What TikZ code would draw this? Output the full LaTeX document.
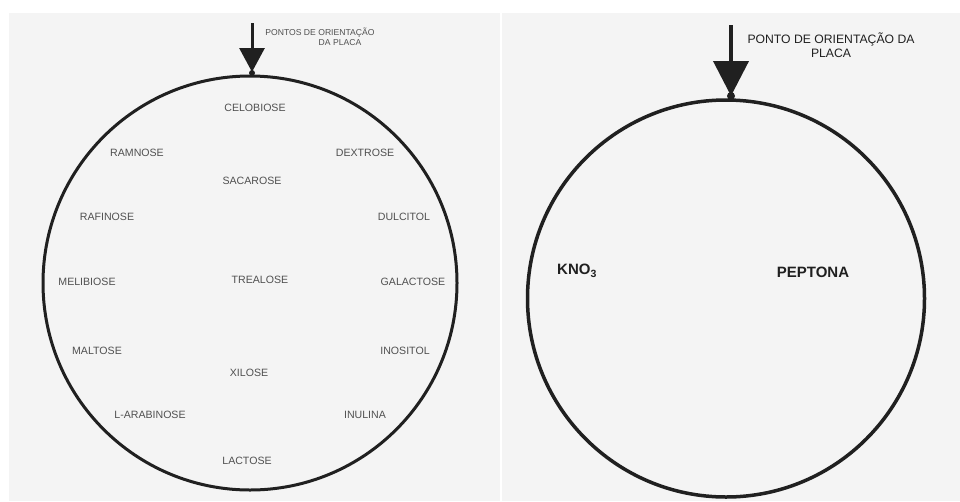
\documentclass[tikz,border=0pt]{standalone}
\usepackage{fontspec}
\setmainfont{Liberation Sans}
\usetikzlibrary{arrows.meta}
\definecolor{paper}{HTML}{F4F4F4}
\definecolor{ink}{HTML}{202020}
\definecolor{lbl}{HTML}{505050}
\tikzset{
  plate/.style={circle, draw=ink, inner sep=0pt, outer sep=0pt},
  sugar/.style={text=lbl, font=\fontsize{10.6}{12}\selectfont, inner sep=0pt},
  medium/.style={text=ink, font=\fontsize{15}{17}\selectfont\bfseries, inner sep=0pt},
  hdrsmall/.style={text=lbl, font=\fontsize{8.6}{10}\selectfont, inner sep=0pt},
  hdrbig/.style={text=ink, font=\fontsize{12.2}{14}\selectfont, inner sep=0pt, align=center},
  pointerL/.style={draw=ink, line width=3pt, -{Triangle[width=25pt,length=24pt]}},
  pointerR/.style={draw=ink, line width=4pt, -{Triangle[width=35pt,length=35pt]}},
  dotmark/.style={circle, fill=ink, inner sep=0pt},
}
\begin{document}
\begin{tikzpicture}[x=1pt,y=-1pt]
\useasboundingbox (0,0) rectangle (960,501);
\fill[white] (0,0) rectangle (960,501);
\fill[paper] (9,13) rectangle (500,501);
\fill[paper] (502,13) rectangle (960,501);

% ---------- left plate ----------
\node[plate, line width=3pt, minimum size=414pt] (L) at (250,283) {};
\coordinate (Ltop) at (252,23);
\draw[pointerL, shorten >=4pt] (Ltop) -- (Ltop |- L.north);
\node[dotmark, minimum size=6pt] (Ldot) at ([yshift=3pt]Ltop |- L.north) {};
\node[hdrsmall] (hdrA) at (320,33) {PONTOS DE ORIENTAÇÃO};
\node[hdrsmall] (hdrB) at (340,43) {DA PLACA};

\node[sugar] (celob) at (255,108) {CELOBIOSE};
\node[sugar] (ramn)  at (137,153) {RAMNOSE};
\node[sugar] (dext)  at (365,153) {DEXTROSE};
\node[sugar] (sacar) at (252,181) {SACAROSE};
\node[sugar] (rafin) at (107,217) {RAFINOSE};
\node[sugar] (dulc)  at (404,217) {DULCITOL};
\node[sugar] (melib) at (87,282)  {MELIBIOSE};
\node[sugar] (treal) at (260,280) {TREALOSE};
\node[sugar] (galac) at (413,282) {GALACTOSE};
\node[sugar] (malt)  at (97,351)  {MALTOSE};
\node[sugar] (inos)  at (405,351) {INOSITOL};
\node[sugar] (xil)   at (249,373) {XILOSE};
\node[sugar] (arab)  at (150,415) {L-ARABINOSE};
\node[sugar] (inul)  at (365,415) {INULINA};
\node[sugar] (lact)  at (247,461) {LACTOSE};

% ---------- right plate ----------
\node[plate, line width=3.5pt, minimum size=397pt] (R) at (726,298.5) {};
\coordinate (Rtop) at (731,25);
\draw[pointerR, shorten >=4pt] (Rtop) -- (Rtop |- R.north);
\node[dotmark, minimum size=8pt] (Rdot) at ([yshift=4pt]Rtop |- R.north) {};
\node[hdrbig] (hdrC) at (831,45) {PONTO DE ORIENTAÇÃO DA\\PLACA};

\node[medium] (kno)  at (577,271) {KNO\textsubscript{3}};
\node[medium] (pept) at (813,272) {PEPTONA};
\end{tikzpicture}
\end{document}
